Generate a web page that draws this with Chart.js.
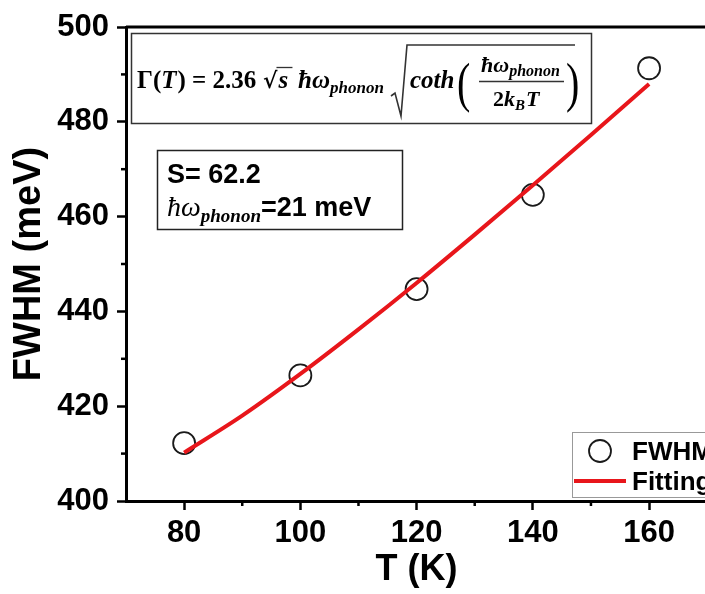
<!DOCTYPE html>
<html>
<head>
<meta charset="utf-8">
<script src="https://cdn.jsdelivr.net/npm/chart.js"></script>
<style>
  html, body { margin: 0; padding: 0; background: #fff; overflow: hidden; }
  #wrap { width: 720px; height: 594px; }
</style>
</head>
<body>
<div id="wrap"><canvas id="chart" width="720" height="594"></canvas></div>
<script>
// measured points (T in K, FWHM in meV)
const tempPoints = [80, 100, 120, 140, 160];
const fwhmPoints = [412.2, 426.5, 444.7, 464.6, 491.3];

// fitted curve
const fitTemps = [80, 90, 100, 110, 120, 130, 140, 150, 160];
const fitValues = [410.2, 418.0, 426.8, 436.2, 446.0, 456.2, 466.6, 477.2, 488.0];

const xTitle = 'T (K)';
const yTitle = 'FWHM (meV)';
const legendLabels = ['FWHM', 'Fitting'];

const SANS = '"Liberation Sans", Arial, sans-serif';
const SERIF = '"Liberation Serif", "DejaVu Serif", serif';
const RED = '#e8161b';

function text(ctx, str, x, y, font, align) {
  ctx.font = font;
  ctx.textAlign = align || 'left';
  ctx.fillText(str, x, y);
  return x + ctx.measureText(str).width;
}

// short minor ticks + the frame on top/right
const framePlugin = {
  id: 'frame',
  afterDraw(chart) {
    const { ctx, chartArea: a, scales } = chart;
    ctx.save();
    ctx.strokeStyle = '#000';
    ctx.lineWidth = 3;
    ctx.beginPath();
    ctx.moveTo(a.left, a.top); ctx.lineTo(a.right, a.top); ctx.lineTo(a.right, a.bottom);
    ctx.stroke();
    ctx.lineWidth = 2.5;
    scales.x.ticks.forEach(t => {
      if (t.value % 20 === 0 || t.value === scales.x.min) return;
      const px = scales.x.getPixelForValue(t.value);
      ctx.beginPath(); ctx.moveTo(px, a.bottom); ctx.lineTo(px, a.bottom + 5); ctx.stroke();
    });
    scales.y.ticks.forEach(t => {
      if (t.value % 20 === 0) return;
      const py = scales.y.getPixelForValue(t.value);
      ctx.beginPath(); ctx.moveTo(a.left, py); ctx.lineTo(a.left - 5, py); ctx.stroke();
    });
    ctx.restore();
  }
};

// formula box, parameter box and legend
const notesPlugin = {
  id: 'notes',
  afterDraw(chart) {
    const { ctx } = chart;
    ctx.save();
    ctx.textBaseline = 'alphabetic';

    // formula box
    ctx.fillStyle = '#fff';
    ctx.fillRect(132, 34, 460, 90);
    ctx.strokeStyle = '#333';
    ctx.lineWidth = 1.5;
    ctx.strokeRect(131.5, 33.5, 460, 90);
    ctx.fillStyle = '#000';
    const B = 'bold 25px ' + SERIF;
    const BI = 'italic bold 25px ' + SERIF;
    const SUB = 'italic bold 17px ' + SERIF;
    let x = text(ctx, 'Γ(', 137, 88, B);
    x = text(ctx, 'T', x, 88, BI);
    x = text(ctx, ') = 2.36', x + 1, 88, B);
    // small radical
    x = text(ctx, '√', 263, 88, 'bold 22px "DejaVu Serif"');
    ctx.lineWidth = 1.3;
    ctx.beginPath(); ctx.moveTo(x - 1, 67.5); ctx.lineTo(x + 15, 67.5); ctx.stroke();
    x = text(ctx, 's', x + 1, 88, BI);
    x = text(ctx, 'ħω', 298, 88, BI);
    text(ctx, 'phonon', x, 93, SUB);
    // large radical
    ctx.lineWidth = 1.6;
    ctx.beginPath();
    ctx.moveTo(391, 96); ctx.lineTo(395, 93); ctx.lineTo(401, 116); ctx.lineTo(407, 45); ctx.lineTo(575, 45);
    ctx.stroke();
    text(ctx, 'coth', 410, 88, BI);
    ctx.save();
    ctx.translate(457, 101); ctx.scale(1, 1.35);
    text(ctx, '(', 0, 0, '40px ' + SERIF);
    ctx.restore();
    ctx.save();
    ctx.translate(566, 101); ctx.scale(1, 1.35);
    text(ctx, ')', 0, 0, '40px ' + SERIF);
    ctx.restore();
    x = text(ctx, 'ħω', 481, 72, 'italic bold 22px ' + SERIF);
    text(ctx, 'phonon', x, 76, 'italic bold 16px ' + SERIF);
    ctx.lineWidth = 1.4;
    ctx.beginPath(); ctx.moveTo(479, 81.5); ctx.lineTo(564, 81.5); ctx.stroke();
    x = text(ctx, '2', 493, 106, 'bold 22px ' + SERIF);
    x = text(ctx, 'k', x, 106, 'italic bold 22px ' + SERIF);
    x = text(ctx, 'B', x, 110, 'italic bold 15px ' + SERIF);
    text(ctx, 'T', x + 1, 106, 'italic bold 22px ' + SERIF);

    // parameter box
    ctx.fillStyle = '#fff';
    ctx.fillRect(157, 150, 245, 79);
    ctx.strokeStyle = '#222';
    ctx.lineWidth = 1.5;
    ctx.strokeRect(157.5, 150.5, 245, 79);
    ctx.fillStyle = '#000';
    text(ctx, 'S= 62.2', 167, 183, 'bold 27px ' + SANS);
    x = text(ctx, 'ħω', 167, 216, 'italic 28px ' + SERIF);
    x = text(ctx, 'phonon', x, 222, 'italic bold 19px ' + SERIF);
    text(ctx, '=21 meV', x, 216, 'bold 27px ' + SANS);

    // legend
    ctx.fillStyle = '#fff';
    ctx.fillRect(572, 432, 160, 65);
    ctx.strokeStyle = '#999';
    ctx.lineWidth = 1;
    ctx.strokeRect(572.5, 432.5, 160, 65);
    ctx.strokeStyle = '#1a1a1a';
    ctx.lineWidth = 1.8;
    ctx.beginPath(); ctx.arc(600, 451, 11, 0, Math.PI * 2); ctx.stroke();
    ctx.strokeStyle = RED;
    ctx.lineWidth = 4;
    ctx.beginPath(); ctx.moveTo(574, 481); ctx.lineTo(626, 481); ctx.stroke();
    ctx.fillStyle = '#000';
    text(ctx, legendLabels[0], 632, 460, 'bold 26px ' + SANS);
    text(ctx, legendLabels[1], 632, 490, 'bold 26px ' + SANS);
    ctx.restore();
  }
};

const tickFont = { family: SANS, size: 31, weight: 'bold' };

new Chart(document.getElementById('chart'), {
  data: {
    datasets: [
      {
        type: 'line',
        label: legendLabels[1],
        data: fitTemps.map((t, i) => ({ x: t, y: fitValues[i] })),
        borderColor: RED,
        borderWidth: 4,
        pointRadius: 0,
        cubicInterpolationMode: 'monotone',
        order: 0
      },
      {
        type: 'scatter',
        label: legendLabels[0],
        data: tempPoints.map((t, i) => ({ x: t, y: fwhmPoints[i] })),
        pointRadius: 11,
        pointBorderWidth: 1.8,
        borderColor: '#1a1a1a',
        backgroundColor: 'rgba(255,255,255,0.5)',
        order: 1
      }
    ]
  },
  options: {
    responsive: false,
    animation: false,
    layout: { padding: { left: 0, top: 27, right: 7, bottom: 0 } },
    plugins: { legend: { display: false }, tooltip: { enabled: false } },
    scales: {
      x: {
        type: 'linear',
        min: 70, max: 170,
        afterFit: s => { s.height = 93; },
        border: { color: '#000', width: 3 },
        grid: {
          drawOnChartArea: false,
          tickLength: 9,
          tickWidth: 2.5,
          tickColor: c => (c.tick && c.tick.value % 20 === 0) ? '#000' : 'rgba(0,0,0,0)'
        },
        ticks: {
          stepSize: 10, autoSkip: false, maxRotation: 0,
          color: '#000', font: tickFont, padding: 5,
          callback: v => (v % 20 === 0 ? v : '')
        },
        title: {
          display: true, text: xTitle, color: '#000',
          font: { family: SANS, size: 36, weight: 'bold' },
          padding: { top: 0, bottom: 2 }
        }
      },
      y: {
        type: 'linear',
        min: 400, max: 500,
        afterFit: s => { s.width = 126; },
        border: { color: '#000', width: 3 },
        grid: {
          drawOnChartArea: false,
          tickLength: 9,
          tickWidth: 2.5,
          tickColor: c => (c.tick && c.tick.value % 20 === 0) ? '#000' : 'rgba(0,0,0,0)'
        },
        ticks: {
          stepSize: 10, autoSkip: false,
          color: '#000', font: tickFont, padding: 8,
          callback: v => (v % 20 === 0 ? v : '')
        },
        title: {
          display: true, text: yTitle, color: '#000',
          font: { family: SANS, size: 38, weight: 'bold' },
          padding: { top: 7, bottom: 0 }
        }
      }
    }
  },
  plugins: [framePlugin, notesPlugin]
});
</script>
</body>
</html>
